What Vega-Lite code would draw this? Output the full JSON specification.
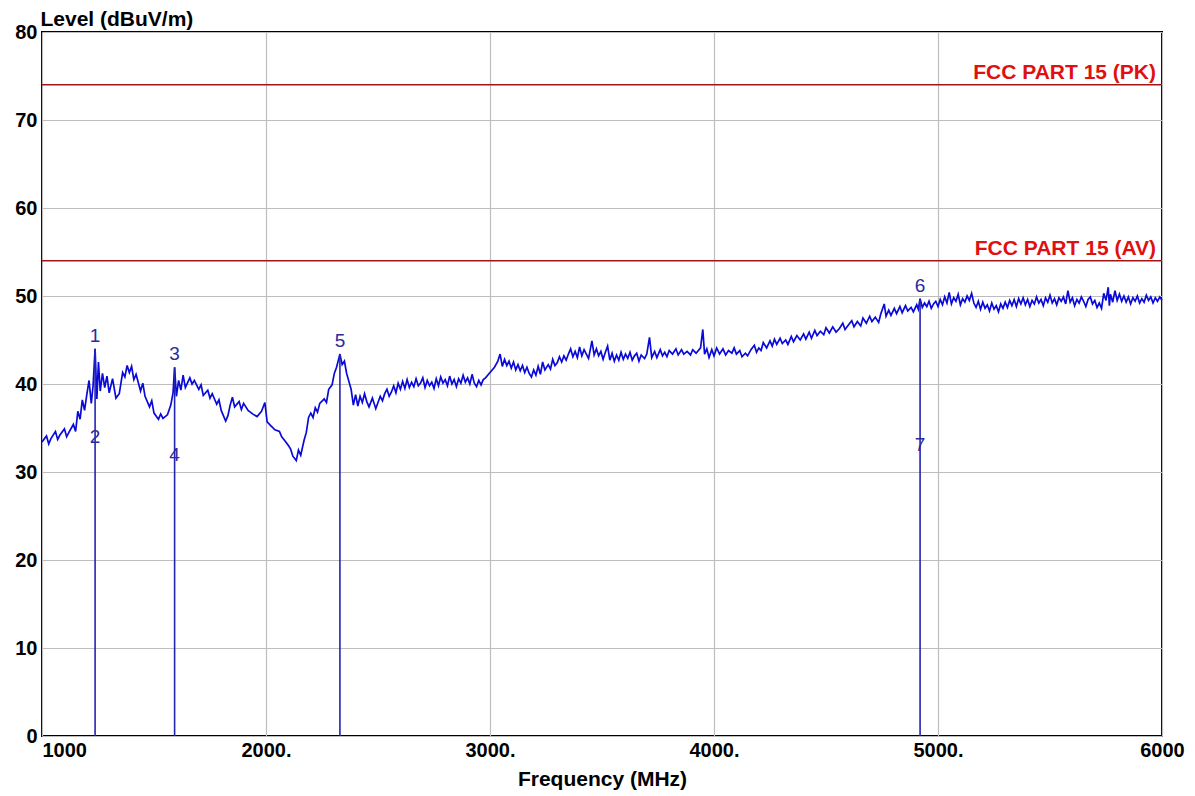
{
  "$schema": "https://vega.github.io/schema/vega-lite/v6.json",
  "autosize": "none",
  "width": 1120,
  "height": 704,
  "padding": {"left": 42, "top": 32, "right": 33, "bottom": 60},
  "background": "white",
  "config": {
    "view": {"stroke": "#000000", "strokeWidth": 2},
    "font": "Liberation Sans"
  },
  "datasets": {
    "trace": [
      {"f":1000,"v":33.4},{"f":1020,"v":34.1},{"f":1030,"v":33.2},{"f":1040,"v":33.8},{"f":1060,"v":34.6},{"f":1070,"v":33.7},{"f":1080,"v":34.2},{"f":1100,"v":34.9},{"f":1110,"v":34.0},{"f":1120,"v":34.5},{"f":1140,"v":35.4},{"f":1150,"v":34.6},{"f":1160,"v":36.9},{"f":1170,"v":36.0},{"f":1180,"v":38.2},{"f":1190,"v":37.0},{"f":1200,"v":38.8},{"f":1210,"v":40.4},{"f":1220,"v":37.8},{"f":1228,"v":39.8},{"f":1237,"v":44.0},{"f":1245,"v":38.3},{"f":1252,"v":42.5},{"f":1260,"v":39.2},{"f":1270,"v":41.2},{"f":1280,"v":39.6},{"f":1290,"v":40.9},{"f":1300,"v":39.0},{"f":1315,"v":40.6},{"f":1330,"v":38.4},{"f":1345,"v":38.9},{"f":1360,"v":41.3},{"f":1370,"v":40.8},{"f":1380,"v":42.1},{"f":1390,"v":41.3},{"f":1400,"v":42.0},{"f":1410,"v":40.5},{"f":1420,"v":41.1},{"f":1440,"v":39.2},{"f":1450,"v":40.1},{"f":1460,"v":38.6},{"f":1480,"v":37.4},{"f":1490,"v":38.1},{"f":1500,"v":36.7},{"f":1520,"v":36.0},{"f":1530,"v":36.6},{"f":1540,"v":36.1},{"f":1560,"v":36.5},{"f":1575,"v":37.6},{"f":1585,"v":39.0},{"f":1592,"v":41.9},{"f":1600,"v":38.6},{"f":1610,"v":40.4},{"f":1620,"v":39.3},{"f":1630,"v":41.0},{"f":1640,"v":39.6},{"f":1660,"v":40.7},{"f":1670,"v":40.0},{"f":1680,"v":40.4},{"f":1700,"v":39.4},{"f":1710,"v":39.9},{"f":1720,"v":38.7},{"f":1740,"v":39.3},{"f":1750,"v":38.4},{"f":1760,"v":38.9},{"f":1780,"v":37.7},{"f":1790,"v":38.2},{"f":1800,"v":37.0},{"f":1820,"v":35.8},{"f":1830,"v":36.4},{"f":1840,"v":37.6},{"f":1850,"v":38.5},{"f":1860,"v":37.4},{"f":1880,"v":38.0},{"f":1890,"v":37.1},{"f":1900,"v":37.8},{"f":1920,"v":37.0},{"f":1940,"v":36.6},{"f":1960,"v":36.3},{"f":1980,"v":36.9},{"f":1995,"v":37.9},{"f":2005,"v":35.7},{"f":2020,"v":35.3},{"f":2040,"v":34.8},{"f":2060,"v":34.6},{"f":2070,"v":34.0},{"f":2080,"v":33.7},{"f":2100,"v":33.0},{"f":2110,"v":32.6},{"f":2120,"v":31.8},{"f":2135,"v":31.3},{"f":2145,"v":32.5},{"f":2155,"v":31.9},{"f":2170,"v":33.6},{"f":2180,"v":34.5},{"f":2190,"v":36.2},{"f":2200,"v":36.7},{"f":2210,"v":36.2},{"f":2220,"v":37.3},{"f":2230,"v":36.8},{"f":2240,"v":37.8},{"f":2260,"v":38.3},{"f":2270,"v":37.9},{"f":2280,"v":39.4},{"f":2295,"v":39.9},{"f":2305,"v":41.2},{"f":2315,"v":41.9},{"f":2322,"v":42.6},{"f":2330,"v":43.4},{"f":2340,"v":42.2},{"f":2350,"v":42.6},{"f":2360,"v":41.2},{"f":2370,"v":40.3},{"f":2380,"v":39.4},{"f":2390,"v":37.6},{"f":2400,"v":38.8},{"f":2410,"v":37.5},{"f":2420,"v":38.6},{"f":2430,"v":37.9},{"f":2440,"v":38.9},{"f":2450,"v":38.0},{"f":2460,"v":37.4},{"f":2475,"v":38.4},{"f":2490,"v":37.2},{"f":2500,"v":37.9},{"f":2510,"v":38.6},{"f":2520,"v":38.1},{"f":2530,"v":38.9},{"f":2540,"v":39.4},{"f":2550,"v":38.6},{"f":2560,"v":39.1},{"f":2570,"v":39.8},{"f":2580,"v":39.0},{"f":2590,"v":40.1},{"f":2600,"v":39.4},{"f":2610,"v":40.3},{"f":2620,"v":39.5},{"f":2630,"v":40.5},{"f":2640,"v":39.6},{"f":2650,"v":40.2},{"f":2660,"v":39.7},{"f":2670,"v":40.6},{"f":2680,"v":39.8},{"f":2690,"v":40.1},{"f":2700,"v":40.7},{"f":2710,"v":39.6},{"f":2720,"v":40.4},{"f":2730,"v":39.8},{"f":2740,"v":40.2},{"f":2750,"v":39.5},{"f":2760,"v":40.6},{"f":2770,"v":39.8},{"f":2780,"v":40.8},{"f":2790,"v":40.1},{"f":2800,"v":40.5},{"f":2810,"v":39.8},{"f":2820,"v":40.9},{"f":2830,"v":40.0},{"f":2840,"v":40.5},{"f":2850,"v":39.7},{"f":2860,"v":40.6},{"f":2870,"v":40.1},{"f":2880,"v":41.0},{"f":2890,"v":40.2},{"f":2900,"v":40.7},{"f":2910,"v":40.0},{"f":2920,"v":41.1},{"f":2930,"v":40.1},{"f":2940,"v":39.7},{"f":2950,"v":40.4},{"f":2960,"v":39.9},{"f":2970,"v":40.5},{"f":2980,"v":40.7},{"f":3000,"v":41.3},{"f":3020,"v":41.9},{"f":3035,"v":42.6},{"f":3045,"v":43.4},{"f":3055,"v":42.0},{"f":3065,"v":42.8},{"f":3075,"v":42.1},{"f":3085,"v":42.6},{"f":3095,"v":41.8},{"f":3105,"v":42.5},{"f":3115,"v":41.6},{"f":3125,"v":42.2},{"f":3135,"v":41.5},{"f":3145,"v":42.1},{"f":3155,"v":41.3},{"f":3165,"v":41.9},{"f":3175,"v":41.2},{"f":3185,"v":40.8},{"f":3195,"v":41.6},{"f":3205,"v":41.0},{"f":3215,"v":42.0},{"f":3225,"v":41.1},{"f":3235,"v":42.5},{"f":3245,"v":41.6},{"f":3260,"v":42.2},{"f":3270,"v":41.7},{"f":3280,"v":42.8},{"f":3290,"v":42.1},{"f":3300,"v":42.4},{"f":3310,"v":43.1},{"f":3320,"v":42.5},{"f":3330,"v":43.2},{"f":3340,"v":42.7},{"f":3350,"v":43.4},{"f":3360,"v":44.0},{"f":3370,"v":43.1},{"f":3380,"v":43.7},{"f":3390,"v":43.0},{"f":3400,"v":44.2},{"f":3410,"v":43.2},{"f":3420,"v":43.9},{"f":3430,"v":43.4},{"f":3440,"v":42.9},{"f":3455,"v":44.9},{"f":3465,"v":43.3},{"f":3475,"v":44.0},{"f":3485,"v":43.2},{"f":3495,"v":43.7},{"f":3505,"v":42.8},{"f":3515,"v":43.6},{"f":3525,"v":44.3},{"f":3535,"v":42.7},{"f":3545,"v":43.5},{"f":3555,"v":42.6},{"f":3565,"v":43.3},{"f":3575,"v":42.7},{"f":3585,"v":43.6},{"f":3595,"v":42.8},{"f":3605,"v":43.4},{"f":3615,"v":42.9},{"f":3625,"v":43.6},{"f":3635,"v":42.7},{"f":3645,"v":43.2},{"f":3655,"v":43.5},{"f":3665,"v":42.6},{"f":3675,"v":43.3},{"f":3690,"v":42.9},{"f":3700,"v":43.4},{"f":3712,"v":45.3},{"f":3722,"v":43.0},{"f":3735,"v":43.7},{"f":3745,"v":43.0},{"f":3760,"v":43.9},{"f":3770,"v":43.2},{"f":3780,"v":43.6},{"f":3790,"v":43.1},{"f":3800,"v":43.8},{"f":3815,"v":43.4},{"f":3830,"v":44.0},{"f":3840,"v":43.3},{"f":3855,"v":43.9},{"f":3865,"v":43.4},{"f":3880,"v":43.7},{"f":3895,"v":43.3},{"f":3905,"v":43.9},{"f":3920,"v":43.5},{"f":3940,"v":44.1},{"f":3950,"v":46.2},{"f":3958,"v":43.4},{"f":3968,"v":44.0},{"f":3978,"v":43.0},{"f":3990,"v":43.9},{"f":4000,"v":43.2},{"f":4012,"v":44.1},{"f":4025,"v":43.4},{"f":4040,"v":44.0},{"f":4052,"v":43.3},{"f":4065,"v":43.8},{"f":4080,"v":43.5},{"f":4090,"v":44.1},{"f":4100,"v":43.4},{"f":4115,"v":43.8},{"f":4125,"v":43.1},{"f":4140,"v":43.5},{"f":4150,"v":43.2},{"f":4165,"v":43.9},{"f":4180,"v":44.4},{"f":4190,"v":43.6},{"f":4200,"v":44.1},{"f":4210,"v":43.8},{"f":4220,"v":44.7},{"f":4235,"v":44.1},{"f":4250,"v":44.9},{"f":4260,"v":44.3},{"f":4270,"v":45.1},{"f":4280,"v":44.5},{"f":4295,"v":45.2},{"f":4305,"v":44.6},{"f":4320,"v":45.0},{"f":4330,"v":44.5},{"f":4345,"v":45.4},{"f":4355,"v":44.8},{"f":4370,"v":45.5},{"f":4385,"v":45.0},{"f":4400,"v":45.7},{"f":4410,"v":45.1},{"f":4425,"v":45.9},{"f":4435,"v":45.2},{"f":4450,"v":46.1},{"f":4460,"v":45.5},{"f":4475,"v":46.0},{"f":4490,"v":45.6},{"f":4500,"v":46.4},{"f":4515,"v":45.8},{"f":4530,"v":46.5},{"f":4545,"v":45.9},{"f":4560,"v":46.3},{"f":4575,"v":46.9},{"f":4585,"v":46.2},{"f":4600,"v":46.7},{"f":4615,"v":47.2},{"f":4625,"v":46.5},{"f":4640,"v":47.1},{"f":4655,"v":46.6},{"f":4665,"v":47.5},{"f":4680,"v":46.9},{"f":4695,"v":47.7},{"f":4705,"v":47.1},{"f":4720,"v":47.6},{"f":4735,"v":47.0},{"f":4745,"v":48.0},{"f":4760,"v":49.1},{"f":4768,"v":47.7},{"f":4780,"v":48.4},{"f":4790,"v":47.8},{"f":4805,"v":48.6},{"f":4815,"v":48.0},{"f":4830,"v":48.8},{"f":4840,"v":48.1},{"f":4855,"v":48.9},{"f":4865,"v":48.3},{"f":4880,"v":48.7},{"f":4890,"v":48.2},{"f":4905,"v":49.0},{"f":4912,"v":48.5},{"f":4920,"v":49.7},{"f":4930,"v":48.7},{"f":4940,"v":49.2},{"f":4950,"v":48.8},{"f":4960,"v":49.4},{"f":4970,"v":48.6},{"f":4980,"v":49.1},{"f":4990,"v":49.4},
      {"f":5000,"v":48.8},{"f":5010,"v":49.6},{"f":5020,"v":49.0},{"f":5030,"v":49.9},{"f":5040,"v":49.2},{"f":5050,"v":50.4},{"f":5060,"v":49.1},{"f":5070,"v":49.8},{"f":5080,"v":49.4},{"f":5090,"v":50.2},{"f":5100,"v":49.0},{"f":5110,"v":49.7},{"f":5120,"v":49.3},{"f":5130,"v":50.0},{"f":5140,"v":49.5},{"f":5150,"v":50.3},{"f":5160,"v":49.2},{"f":5170,"v":48.7},{"f":5180,"v":49.4},{"f":5190,"v":48.5},{"f":5200,"v":49.3},{"f":5210,"v":48.6},{"f":5220,"v":49.0},{"f":5230,"v":48.3},{"f":5240,"v":49.2},{"f":5250,"v":48.5},{"f":5260,"v":48.9},{"f":5270,"v":48.2},{"f":5280,"v":49.1},{"f":5290,"v":48.6},{"f":5300,"v":49.3},{"f":5310,"v":48.7},{"f":5320,"v":49.5},{"f":5330,"v":48.9},{"f":5340,"v":49.6},{"f":5350,"v":48.8},{"f":5360,"v":49.7},{"f":5370,"v":49.1},{"f":5380,"v":49.8},{"f":5390,"v":49.0},{"f":5400,"v":49.6},{"f":5410,"v":48.8},{"f":5420,"v":49.5},{"f":5430,"v":49.1},{"f":5440,"v":49.9},{"f":5450,"v":49.2},{"f":5460,"v":49.6},{"f":5470,"v":48.9},{"f":5480,"v":49.8},{"f":5490,"v":49.3},{"f":5500,"v":50.1},{"f":5510,"v":49.2},{"f":5520,"v":49.7},{"f":5530,"v":49.0},{"f":5540,"v":49.8},{"f":5550,"v":49.4},{"f":5560,"v":49.9},{"f":5570,"v":49.1},{"f":5580,"v":50.6},{"f":5590,"v":49.3},{"f":5600,"v":49.8},{"f":5610,"v":48.9},{"f":5620,"v":49.6},{"f":5630,"v":49.2},{"f":5640,"v":49.9},{"f":5650,"v":49.4},{"f":5660,"v":48.8},{"f":5670,"v":49.6},{"f":5680,"v":49.9},{"f":5690,"v":49.1},{"f":5700,"v":49.5},{"f":5710,"v":48.7},{"f":5720,"v":49.2},{"f":5730,"v":48.6},{"f":5740,"v":50.3},{"f":5750,"v":49.5},{"f":5760,"v":51.0},{"f":5765,"v":48.9},{"f":5770,"v":50.2},{"f":5780,"v":49.3},{"f":5790,"v":50.6},{"f":5800,"v":49.5},{"f":5810,"v":50.2},{"f":5820,"v":49.4},{"f":5830,"v":50.0},{"f":5840,"v":49.3},{"f":5850,"v":49.9},{"f":5860,"v":49.1},{"f":5870,"v":49.8},{"f":5880,"v":49.4},{"f":5890,"v":50.0},{"f":5900,"v":49.2},{"f":5910,"v":49.7},{"f":5920,"v":49.3},{"f":5930,"v":50.1},{"f":5940,"v":49.5},{"f":5950,"v":49.9},{"f":5960,"v":49.2},{"f":5970,"v":49.8},{"f":5980,"v":49.4},{"f":5990,"v":49.9},{"f":6000,"v":49.5}
    ],
    "limits": [
      {"lim": 74, "name": "FCC PART 15 (PK)", "fx": 6000},
      {"lim": 54, "name": "FCC PART 15 (AV)", "fx": 6000}
    ],
    "markers": [
      {"f": 1237, "peak": 44.0, "pk": "1", "base": 0, "avg": 34.0, "av": "2"},
      {"f": 1592, "peak": 41.9, "pk": "3", "base": 0, "avg": 31.9, "av": "4"},
      {"f": 2330, "peak": 43.4, "pk": "5", "base": 0, "avg": null, "av": ""},
      {"f": 4920, "peak": 49.7, "pk": "6", "base": 0, "avg": 33.1, "av": "7"}
    ]
  },
  "layer": [
    {
      "data": {"name": "trace"},
      "mark": {"type": "line", "color": "#0a0ad8", "strokeWidth": 1.7},
      "encoding": {
        "x": {
          "field": "f",
          "type": "quantitative",
          "scale": {"domain": [1000, 6000], "nice": false, "zero": false},
          "axis": {
            "title": "Frequency (MHz)",
            "values": [1000, 2000, 3000, 4000, 5000, 6000],
            "labelExpr": "(datum.value == 1000 || datum.value == 6000) ? format(datum.value, 'd') : format(datum.value, 'd') + '.'",
            "labelAlign": {"condition": {"test": "datum.value == 1000", "value": "left"}, "value": "center"},
            "labelFont": "Liberation Sans",
            "labelFontWeight": "bold",
            "labelFontSize": 20,
            "labelColor": "#000000",
            "labelPadding": 4,
            "labelBaseline": "top",
            "labelFlush": false,
            "ticks": false,
            "domain": false,
            "grid": true,
            "gridColor": "#bdbdbd",
            "gridWidth": 1.2,
            "titleFont": "Liberation Sans",
            "titleFontWeight": "bold",
            "titleFontSize": 21,
            "titleColor": "#000000",
            "titlePadding": 8
          }
        },
        "y": {
          "field": "v",
          "type": "quantitative",
          "scale": {"domain": [0, 80], "nice": false},
          "axis": {
            "title": "Level (dBuV/m)",
            "values": [0, 10, 20, 30, 40, 50, 60, 70, 80],
            "labelFont": "Liberation Sans",
            "labelFontWeight": "bold",
            "labelFontSize": 20,
            "labelColor": "#000000",
            "labelPadding": 5,
            "labelFlush": false,
            "ticks": false,
            "domain": false,
            "grid": true,
            "gridColor": "#bdbdbd",
            "gridWidth": 1.2,
            "titleFont": "Liberation Sans",
            "titleFontWeight": "bold",
            "titleFontSize": 21,
            "titleColor": "#000000",
            "titleAngle": 0,
            "titleAlign": "left",
            "titleBaseline": "middle",
            "titleX": -2,
            "titleY": -13
          }
        }
      }
    },
    {
      "data": {"name": "limits"},
      "mark": {"type": "rule", "color": "#a31515", "strokeWidth": 1.6},
      "encoding": {"y": {"field": "lim", "type": "quantitative"}}
    },
    {
      "data": {"name": "limits"},
      "mark": {"type": "text", "color": "#e01010", "font": "Liberation Sans", "fontWeight": "bold", "fontSize": 21, "align": "right", "baseline": "bottom", "dx": -6, "dy": -2},
      "encoding": {
        "x": {"field": "fx", "type": "quantitative"},
        "y": {"field": "lim", "type": "quantitative"},
        "text": {"field": "name"}
      }
    },
    {
      "data": {"name": "markers"},
      "mark": {"type": "rule", "color": "#2424b4", "strokeWidth": 1.6},
      "encoding": {
        "x": {"field": "f", "type": "quantitative"},
        "y": {"field": "base", "type": "quantitative"},
        "y2": {"field": "peak"}
      }
    },
    {
      "data": {"name": "markers"},
      "mark": {"type": "text", "color": "#2a2aa0", "font": "Liberation Sans", "fontSize": 19, "align": "center", "baseline": "bottom", "dy": -3},
      "encoding": {
        "x": {"field": "f", "type": "quantitative"},
        "y": {"field": "peak", "type": "quantitative"},
        "text": {"field": "pk"}
      }
    },
    {
      "data": {"name": "markers"},
      "transform": [{"filter": "datum.avg != null"}],
      "mark": {"type": "text", "color": "#2a2aa0", "font": "Liberation Sans", "fontSize": 19, "align": "center", "baseline": "middle"},
      "encoding": {
        "x": {"field": "f", "type": "quantitative"},
        "y": {"field": "avg", "type": "quantitative"},
        "text": {"field": "av"}
      }
    }
  ]
}
